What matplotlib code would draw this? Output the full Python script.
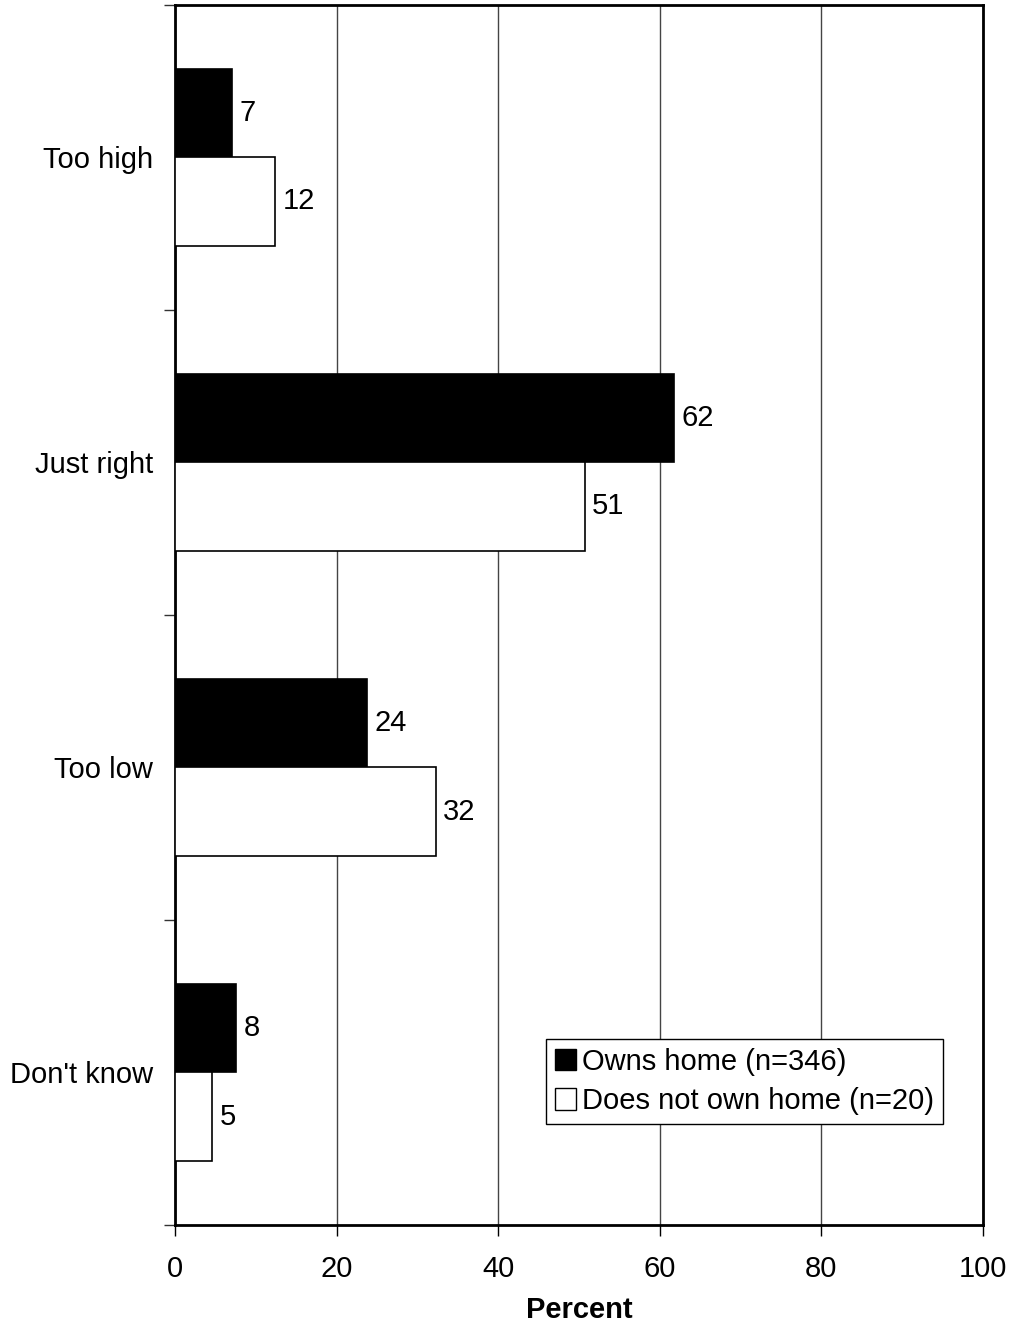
import numpy as np
import matplotlib.pyplot as plt
from matplotlib.patches import Patch

plt.rcParams['font.family'] = ['Liberation Sans', 'DejaVu Sans']

categorias = ["Too high", "Just right", "Too low", "Don't know"]
dono = [7.1, 61.8, 23.8, 7.6]
nao_dono = [12.4, 50.7, 32.3, 4.6]
rotulos_dono = ["7", "62", "24", "8"]
rotulos_nao_dono = ["12", "51", "32", "5"]
legenda = ["Owns home (n=346)", "Does not own home (n=20)"]
x_ticks = [0, 20, 40, 60, 80, 100]

fs = 21

fig = plt.figure(figsize=(10.11, 13.29), dpi=100)
ax = fig.add_axes([0.1731, 0.0783, 0.7992, 0.918])

n = len(categorias)
centros = np.arange(n)[::-1] + 0.5
h = 0.289

# barras pretas acima do centro, brancas abaixo
b1 = ax.barh(centros + h / 2, dono, height=h, color="black", edgecolor="black", linewidth=1.2, zorder=3)
b2 = ax.barh(centros - h / 2, nao_dono, height=h, color="white", edgecolor="black", linewidth=1.2, zorder=3)

for barra, txt in zip(b1, rotulos_dono):
    ax.text(barra.get_width() + 0.9, barra.get_y() + h / 2, txt, va="center", ha="left", fontsize=fs)
for barra, txt in zip(b2, rotulos_nao_dono):
    ax.text(barra.get_width() + 0.9, barra.get_y() + h / 2, txt, va="center", ha="left", fontsize=fs)

ax.set_xlim(0, 100)
ax.set_ylim(0, n)
ax.set_xticks(x_ticks)
ax.set_xticklabels([str(t) for t in x_ticks], fontsize=fs)
ax.set_yticks(np.arange(n + 1))
ax.set_yticklabels([])
ax.set_yticks(centros, minor=True)
ax.set_yticklabels(categorias, minor=True, fontsize=fs)
ax.tick_params(axis="y", which="minor", length=0, pad=16)
ax.tick_params(axis="y", which="major", length=8, width=1, color="#333333")
ax.tick_params(axis="x", length=8, width=1, pad=14)

ax.xaxis.grid(True, color="#444444", linewidth=1, zorder=0)
ax.set_axisbelow(True)
for s in ax.spines.values():
    s.set_linewidth(2)

ax.set_xlabel("Percent", fontsize=fs, fontweight="bold", labelpad=9)

handles = [Patch(facecolor="black", edgecolor="black"), Patch(facecolor="white", edgecolor="black")]
leg = ax.legend(handles, legenda, loc="upper left", bbox_to_anchor=(0.459, 0.1525),
                fontsize=fs, frameon=True, fancybox=False, edgecolor="black", framealpha=1,
                handlelength=0.75, handleheight=0.75, handletextpad=0.2, borderpad=0.3,
                borderaxespad=0, labelspacing=0.4)
leg.get_frame().set_linewidth(1)

fig.savefig("out.png", dpi=100)
